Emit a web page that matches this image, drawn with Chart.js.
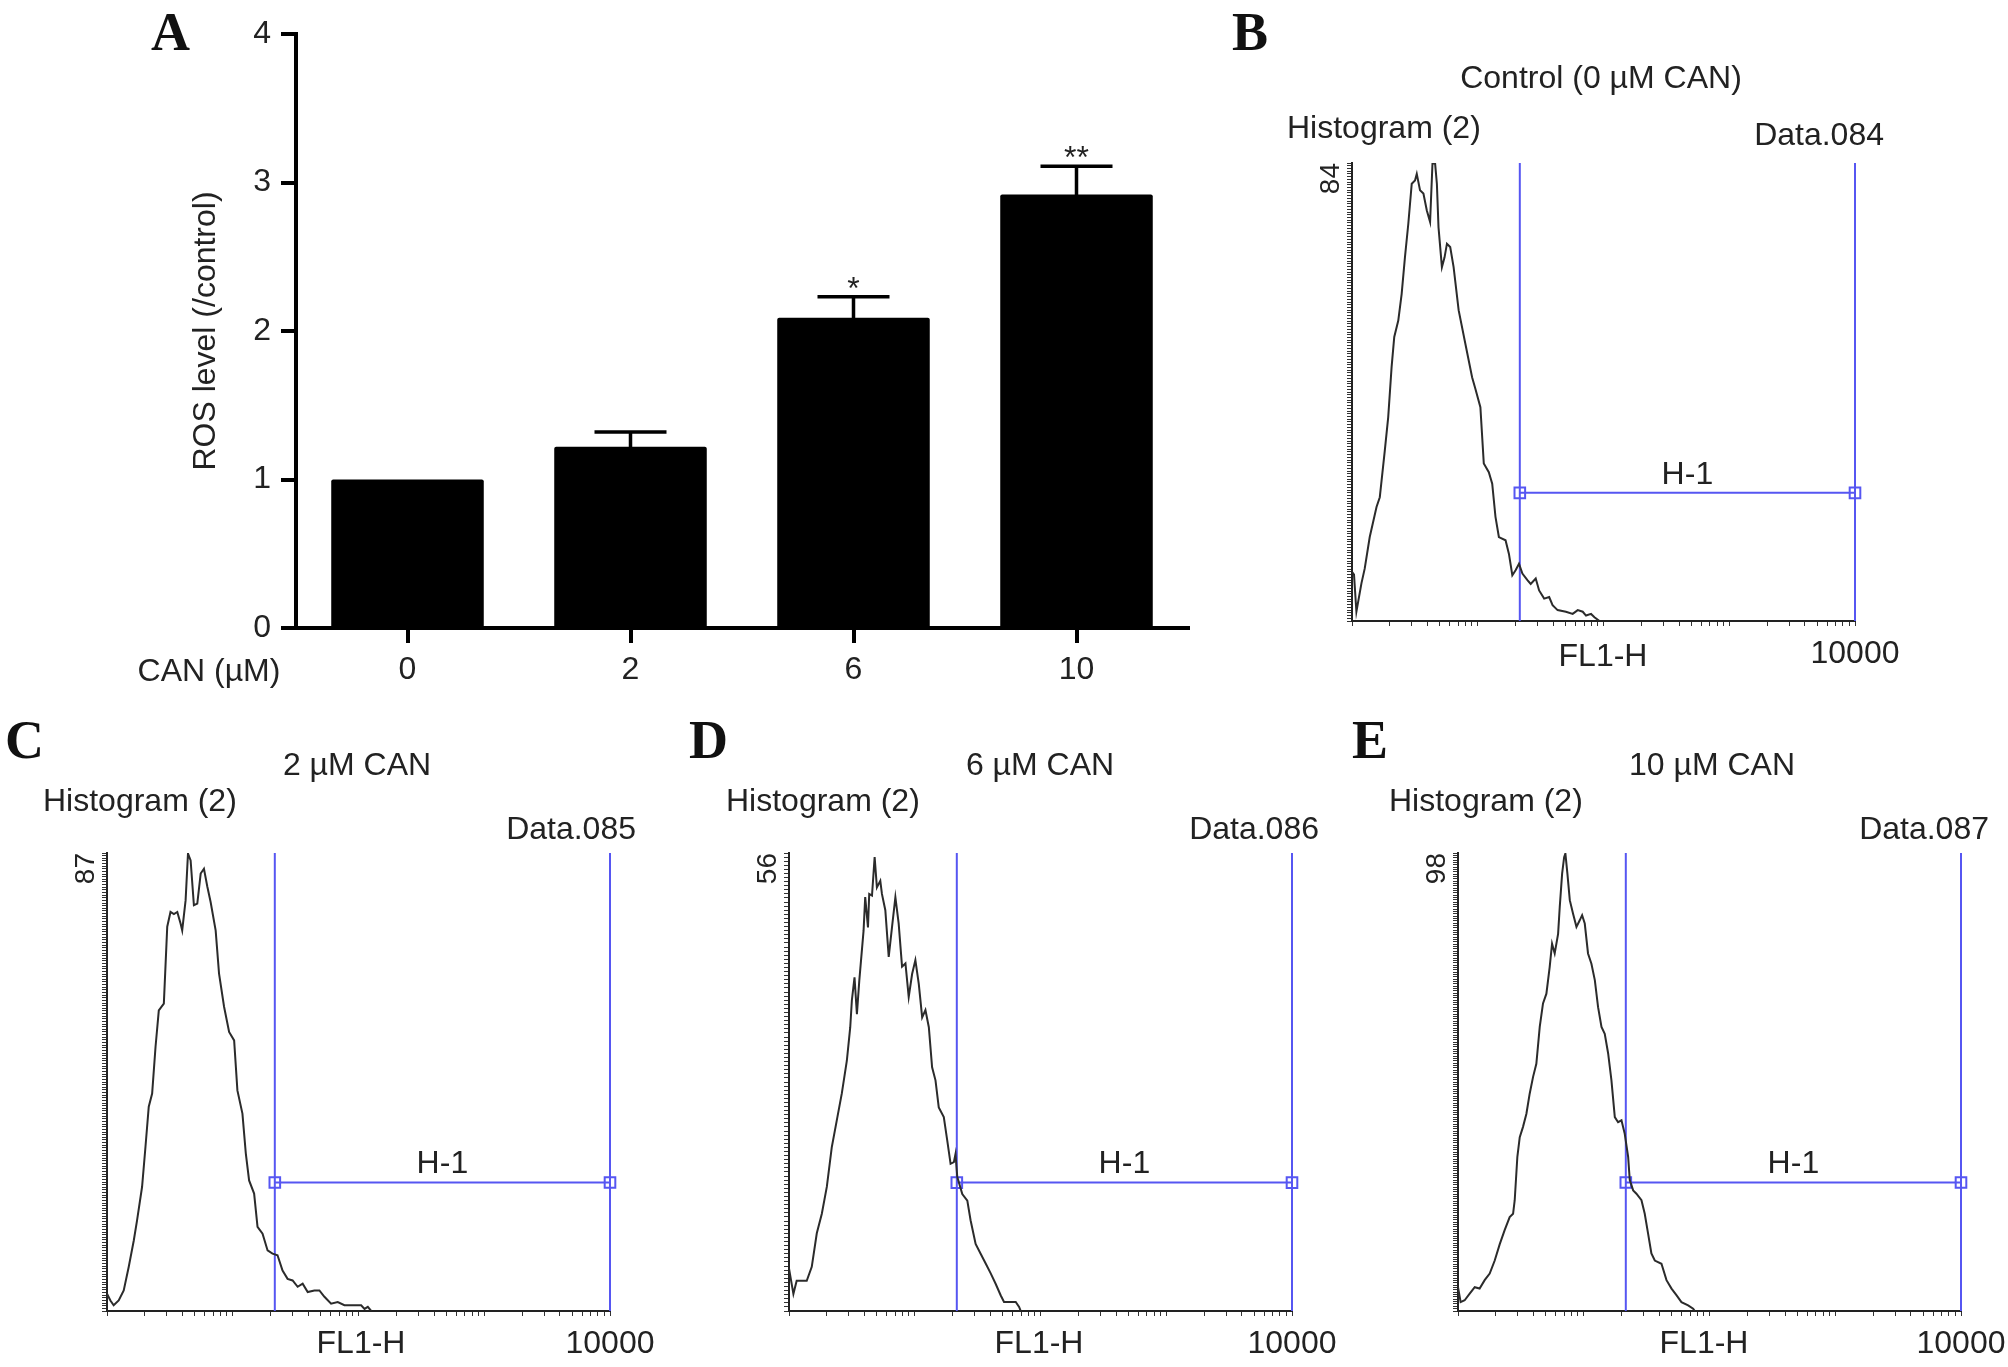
<!DOCTYPE html>
<html lang="en">
<head>
    <meta charset="UTF-8">
    <title>ROS level and FL1-H histograms after CAN treatment</title>
    <style>
        body {
            margin: 0;
            background: #fff;
        }

        #fig {
            position: relative;
            width: 2008px;
            height: 1367px;
            overflow: hidden;
            font-family: 'Liberation Sans', Arial, sans-serif;
            color: #222;
        }

        #fig canvas {
            position: absolute;
            left: 0;
            top: 0;
        }

        .t {
            position: absolute;
            font-size: 32px;
            line-height: 1;
            white-space: nowrap;
        }

        .c { transform: translateX(-50%); }
        .r { transform: translateX(-100%); }

        .panel {
            position: absolute;
            font-family: 'Liberation Serif', 'Times New Roman', serif;
            font-weight: bold;
            font-size: 54px;
            line-height: 1;
            color: #111;
        }
    </style>
    <script src="https://cdn.jsdelivr.net/npm/chart.js"></script>
</head>
<body>
<div id="fig">
    <canvas id="chartA" width="2008" height="1367"></canvas>
    <canvas id="chartB" width="2008" height="1367"></canvas>
    <canvas id="chartC" width="2008" height="1367"></canvas>
    <canvas id="chartD" width="2008" height="1367"></canvas>
    <canvas id="chartE" width="2008" height="1367"></canvas>

    <div class="panel" style="left:151px; top:5px;">A</div>
    <div class="panel" style="left:1232px; top:5px;">B</div>
    <div class="panel" style="left:5px; top:713px;">C</div>
    <div class="panel" style="left:689px; top:713px;">D</div>
    <div class="panel" style="left:1352px; top:713px;">E</div>

    <div class="t c" style="left:209px; top:654px;">CAN (µM)</div>

    <div class="t c" style="left:1601px; top:61px;">Control (0 µM CAN)</div>
    <div class="t" style="left:1287px; top:111px;">Histogram (2)</div>
    <div class="t r" style="left:1884px; top:118px;">Data.084</div>
    <div class="t c" style="left:1603px; top:639px;">FL1-H</div>

    <div class="t c" style="left:357px; top:748px;">2 µM CAN</div>
    <div class="t" style="left:43px; top:784px;">Histogram (2)</div>
    <div class="t r" style="left:636px; top:812px;">Data.085</div>
    <div class="t c" style="left:361px; top:1326px;">FL1-H</div>

    <div class="t c" style="left:1040px; top:748px;">6 µM CAN</div>
    <div class="t" style="left:726px; top:784px;">Histogram (2)</div>
    <div class="t r" style="left:1319px; top:812px;">Data.086</div>
    <div class="t c" style="left:1039px; top:1326px;">FL1-H</div>

    <div class="t c" style="left:1712px; top:748px;">10 µM CAN</div>
    <div class="t" style="left:1389px; top:784px;">Histogram (2)</div>
    <div class="t r" style="left:1989px; top:812px;">Data.087</div>
    <div class="t c" style="left:1704px; top:1326px;">FL1-H</div>
</div>

<script>
    // Panel A: ROS level relative to control
    const doses = ['0', '2', '6', '10'];
    const rosMean = [1.0, 1.22, 2.09, 2.92];
    const rosErr = [0, 0.10, 0.14, 0.19];
    const rosSig = ['', '', '*', '**'];

    // Histograms: position on the log FL1-H axis (decades) and cell count
    const ctrlLog = [0, 0.016, 0.035, 0.075, 0.101, 0.141, 0.195, 0.221, 0.261, 0.288, 0.315, 0.336, 0.368, 0.395, 0.421, 0.448, 0.475, 0.501, 0.515, 0.541, 0.568, 0.595, 0.621, 0.640, 0.661, 0.675, 0.688, 0.715, 0.736, 0.755, 0.781, 0.808, 0.848, 0.901, 0.955, 0.981, 1.021, 1.048, 1.088, 1.115, 1.141, 1.168, 1.221, 1.248, 1.275, 1.301, 1.328, 1.355, 1.395, 1.421, 1.461, 1.488, 1.528, 1.568, 1.595, 1.635, 1.701, 1.755, 1.795, 1.835, 1.861, 1.901, 1.928, 1.968];
    const ctrlCount = [9.0, 8.5, 1.7, 6.9, 9.6, 15.4, 20.9, 22.7, 31.3, 37.4, 46.6, 52.1, 55.1, 60.0, 66.7, 72.9, 80.2, 80.8, 82.0, 79.0, 78.4, 75.3, 73.2, 83.9, 83.9, 80.2, 72.2, 64.9, 66.7, 69.2, 68.6, 64.9, 57.0, 50.9, 44.7, 42.6, 39.2, 28.9, 27.3, 25.2, 19.1, 15.4, 14.8, 12.3, 8.4, 9.3, 10.5, 8.7, 7.5, 6.8, 7.8, 5.6, 4.1, 4.4, 2.9, 2.0, 1.7, 1.3, 2.0, 1.7, 1.0, 1.3, 0.7, 0];

    const can2Log = [0, 0.027, 0.053, 0.093, 0.133, 0.173, 0.213, 0.239, 0.279, 0.306, 0.332, 0.359, 0.386, 0.412, 0.452, 0.479, 0.505, 0.532, 0.559, 0.585, 0.598, 0.625, 0.644, 0.665, 0.691, 0.718, 0.745, 0.771, 0.798, 0.824, 0.864, 0.891, 0.931, 0.971, 1.011, 1.037, 1.077, 1.104, 1.130, 1.170, 1.197, 1.237, 1.277, 1.316, 1.356, 1.396, 1.436, 1.476, 1.516, 1.556, 1.596, 1.649, 1.689, 1.729, 1.782, 1.835, 1.888, 1.968, 2.021, 2.048, 2.074, 2.101];
    const can2Count = [3.3, 2.0, 1.1, 2.0, 3.9, 8.4, 13.4, 17.2, 23.6, 31.2, 38.8, 41.3, 50.2, 57.1, 58.4, 73.0, 75.8, 75.4, 75.8, 73.6, 72.3, 78.0, 86.9, 85.6, 77.1, 77.4, 83.1, 84.0, 80.6, 77.7, 72.3, 64.1, 57.8, 53.0, 51.4, 41.9, 37.5, 29.9, 24.8, 22.3, 16.0, 14.7, 11.5, 10.9, 10.6, 7.7, 6.1, 5.8, 4.6, 5.2, 3.6, 3.9, 3.9, 2.7, 1.4, 1.7, 1.1, 1.1, 1.1, 0.4, 0.8, 0];

    const can6Log = [0, 0.035, 0.061, 0.141, 0.181, 0.221, 0.261, 0.301, 0.340, 0.380, 0.420, 0.460, 0.487, 0.500, 0.521, 0.540, 0.559, 0.593, 0.606, 0.628, 0.638, 0.660, 0.681, 0.699, 0.726, 0.739, 0.766, 0.793, 0.819, 0.846, 0.872, 0.899, 0.926, 0.952, 0.979, 1.005, 1.032, 1.059, 1.085, 1.112, 1.138, 1.165, 1.191, 1.231, 1.258, 1.285, 1.311, 1.324, 1.338, 1.378, 1.418, 1.444, 1.484, 1.524, 1.564, 1.604, 1.644, 1.684, 1.710, 1.803, 1.830, 1.843];
    const can6Count = [5.2, 2.1, 3.7, 3.7, 5.4, 9.5, 11.9, 15.2, 20.0, 23.3, 26.6, 30.6, 34.7, 38.0, 40.8, 36.3, 40.4, 46.5, 50.6, 46.9, 51.0, 50.8, 55.5, 51.8, 52.6, 51.0, 49.0, 43.3, 46.9, 50.6, 47.4, 42.1, 42.5, 38.4, 41.2, 42.9, 40.0, 35.9, 36.8, 34.7, 29.8, 28.2, 24.9, 23.7, 20.9, 18.0, 18.2, 19.2, 16.4, 14.3, 13.5, 11.1, 8.2, 7.0, 5.8, 4.6, 3.3, 1.9, 1.1, 1.1, 0.5, 0];

    const can10Log = [0, 0.021, 0.053, 0.093, 0.133, 0.172, 0.212, 0.252, 0.292, 0.332, 0.371, 0.411, 0.438, 0.451, 0.472, 0.491, 0.517, 0.544, 0.570, 0.597, 0.623, 0.650, 0.676, 0.703, 0.729, 0.748, 0.769, 0.796, 0.809, 0.828, 0.844, 0.854, 0.870, 0.889, 0.915, 0.942, 0.968, 0.987, 1.008, 1.034, 1.061, 1.088, 1.114, 1.141, 1.167, 1.194, 1.220, 1.247, 1.273, 1.300, 1.326, 1.353, 1.366, 1.393, 1.419, 1.459, 1.485, 1.512, 1.538, 1.565, 1.618, 1.658, 1.698, 1.737, 1.777, 1.830, 1.870, 1.883];
    const can10Count = [5.1, 1.9, 2.3, 3.7, 5.1, 4.8, 6.6, 8.0, 10.8, 14.3, 17.3, 20.1, 20.8, 23.7, 33.0, 37.2, 39.4, 42.2, 46.5, 50.1, 52.9, 60.8, 65.8, 67.9, 73.6, 78.6, 76.5, 80.7, 86.4, 93.6, 97.1, 97.9, 93.6, 87.9, 85.0, 82.2, 83.6, 84.7, 82.9, 76.5, 74.3, 70.8, 65.0, 60.8, 59.3, 55.1, 49.4, 41.5, 40.4, 40.8, 37.9, 33.0, 28.0, 25.8, 25.1, 23.7, 20.8, 16.5, 12.3, 10.8, 10.1, 6.6, 4.8, 3.4, 1.9, 1.2, 0.5, 0];

    // y-axis top count of each histogram (B, C, D, E) and height of the H-1 marker
    const histTop = [84, 87, 56, 98];
    const gateLevel = [23.5, 24.4, 15.7, 27.5];
    const gateLow = 21.6;
    const gateHigh = 10000;
    const gateName = 'H-1';

    const FONT = '"Liberation Sans", Arial, sans-serif';
    const INK = '#222';
    const GATE_BLUE = '#5656f2';

    Chart.defaults.font.family = FONT;
    Chart.defaults.color = INK;

    // error bars and significance marks on panel A
    const errorBars = {
        id: 'errorBars',
        afterDatasetsDraw(chart) {
            const { ctx, scales: { x, y } } = chart;
            ctx.save();
            ctx.strokeStyle = '#000';
            ctx.fillStyle = INK;
            ctx.lineWidth = 3.5;
            ctx.font = '32px ' + FONT;
            ctx.textAlign = 'center';
            ctx.textBaseline = 'alphabetic';
            rosMean.forEach((m, i) => {
                if (!rosErr[i]) return;
                const px = x.getPixelForValue(i);
                const y0 = y.getPixelForValue(m);
                const y1 = y.getPixelForValue(m + rosErr[i]);
                ctx.beginPath();
                ctx.moveTo(px, y0 + 2);
                ctx.lineTo(px, y1);
                ctx.moveTo(px - 36, y1);
                ctx.lineTo(px + 36, y1);
                ctx.stroke();
                if (rosSig[i]) ctx.fillText(rosSig[i], px, y1 + 2);
            });
            ctx.restore();
        }
    };

    // Panel A
    const A_YW = 110, A_XH = 80;
    new Chart(document.getElementById('chartA'), {
        type: 'bar',
        data: {
            labels: doses,
            datasets: [{
                data: rosMean,
                backgroundColor: '#000',
                barPercentage: 0.684,
                categoryPercentage: 1.0,
                borderRadius: 2
            }]
        },
        options: {
            responsive: false,
            animation: false,
            events: [],
            layout: { padding: { left: 296 - A_YW, right: 2008 - 1188, top: 34, bottom: 1367 - 628 - A_XH } },
            plugins: { legend: { display: false }, tooltip: { enabled: false } },
            scales: {
                x: {
                    grid: { offset: false, drawOnChartArea: false, tickLength: 15, lineWidth: 4, color: '#000' },
                    border: { width: 4, color: '#000' },
                    ticks: { padding: 8, color: INK, font: { size: 32 } },
                    afterFit: s => { s.height = A_XH; }
                },
                y: {
                    min: 0,
                    max: 4,
                    ticks: { stepSize: 1, padding: 10, color: INK, font: { size: 32 } },
                    grid: { drawOnChartArea: false, tickLength: 15, lineWidth: 4, color: '#000' },
                    border: { width: 4, color: '#000' },
                    title: { display: true, text: 'ROS level (/control)', color: INK, font: { size: 32 }, padding: { top: 1, bottom: 0 } },
                    afterFit: s => { s.width = A_YW; }
                }
            }
        },
        plugins: [errorBars]
    });

    // log axis tick marks 1..9 per decade
    const fl1Ticks = [];
    for (let d = 0; d < 4; d++) {
        for (let m = 1; m < 10; m++) fl1Ticks.push(m * Math.pow(10, d));
    }
    fl1Ticks.push(10000);

    function drawHistogram(id, logPos, counts, top, level, area) {
        const YW = 50, XH = 60;
        const curve = logPos.map((p, i) => ({ x: Math.pow(10, p), y: counts[i] }));
        const gate = { borderColor: GATE_BLUE, borderWidth: 2, pointRadius: 0, clip: false };

        const gateLabel = {
            id: 'gateLabel',
            afterDatasetsDraw(chart) {
                const { ctx, scales: { x, y } } = chart;
                const cx = (x.getPixelForValue(gateLow) + x.getPixelForValue(gateHigh)) / 2;
                ctx.save();
                ctx.font = '32px ' + FONT;
                ctx.fillStyle = INK;
                ctx.textAlign = 'center';
                ctx.textBaseline = 'middle';
                ctx.fillText(gateName, cx, y.getPixelForValue(level) - 18);
                ctx.restore();
            }
        };

        return new Chart(document.getElementById(id), {
            type: 'line',
            data: {
                datasets: [
                    { data: curve, borderColor: '#2b2b2b', borderWidth: 2, pointRadius: 0, tension: 0 },
                    { ...gate, data: [{ x: gateLow, y: 0 }, { x: gateLow, y: top }] },
                    { ...gate, data: [{ x: gateHigh, y: 0 }, { x: gateHigh, y: top }] },
                    {
                        ...gate,
                        data: [{ x: gateLow, y: level }, { x: gateHigh, y: level }],
                        pointRadius: 7.5,
                        pointStyle: 'rect',
                        pointBorderColor: GATE_BLUE,
                        pointBackgroundColor: 'rgba(255,255,255,0)',
                        pointBorderWidth: 2
                    }
                ]
            },
            options: {
                responsive: false,
                animation: false,
                events: [],
                layout: {
                    padding: {
                        left: area.left - YW,
                        right: 2008 - area.right,
                        top: area.top,
                        bottom: 1367 - area.bottom - XH
                    }
                },
                plugins: { legend: { display: false }, tooltip: { enabled: false } },
                scales: {
                    x: {
                        type: 'logarithmic',
                        min: 1,
                        max: 10000,
                        afterBuildTicks: s => { s.ticks = fl1Ticks.map(v => ({ value: v })); },
                        ticks: {
                            autoSkip: false, minRotation: 0, maxRotation: 0, padding: 9,
                            color: INK, font: { size: 32 },
                            callback: v => (v === 10000 ? '10000' : '')
                        },
                        grid: { drawOnChartArea: false, tickLength: 5, lineWidth: 1, color: '#333' },
                        border: { width: 2, color: '#222' },
                        afterFit: s => {
                            s.height = XH;
                            s.paddingLeft = 0;
                            s.paddingRight = 0;
                        }
                    },
                    y: {
                        min: 0,
                        max: top,
                        ticks: {
                            stepSize: 0.5, autoSkip: false, minRotation: 90, maxRotation: 90, padding: 16,
                            color: INK, font: { size: 28 },
                            callback: v => (Math.abs(v - top) < 1e-6 ? String(top) : '')
                        },
                        grid: { drawOnChartArea: false, tickLength: 5, lineWidth: 1, color: '#333' },
                        border: { width: 2, color: '#222' },
                        afterFit: s => {
                            s.width = YW;
                            s.paddingTop = 0;
                            s.paddingBottom = 0;
                        }
                    }
                }
            },
            plugins: [gateLabel]
        });
    }

    drawHistogram('chartB', ctrlLog, ctrlCount, histTop[0], gateLevel[0], { left: 1352, right: 1855, top: 163, bottom: 621 });
    drawHistogram('chartC', can2Log, can2Count, histTop[1], gateLevel[1], { left: 107, right: 610, top: 853, bottom: 1311 });
    drawHistogram('chartD', can6Log, can6Count, histTop[2], gateLevel[2], { left: 789, right: 1292, top: 853, bottom: 1311 });
    drawHistogram('chartE', can10Log, can10Count, histTop[3], gateLevel[3], { left: 1458, right: 1961, top: 853, bottom: 1311 });
</script>
</body>
</html>
